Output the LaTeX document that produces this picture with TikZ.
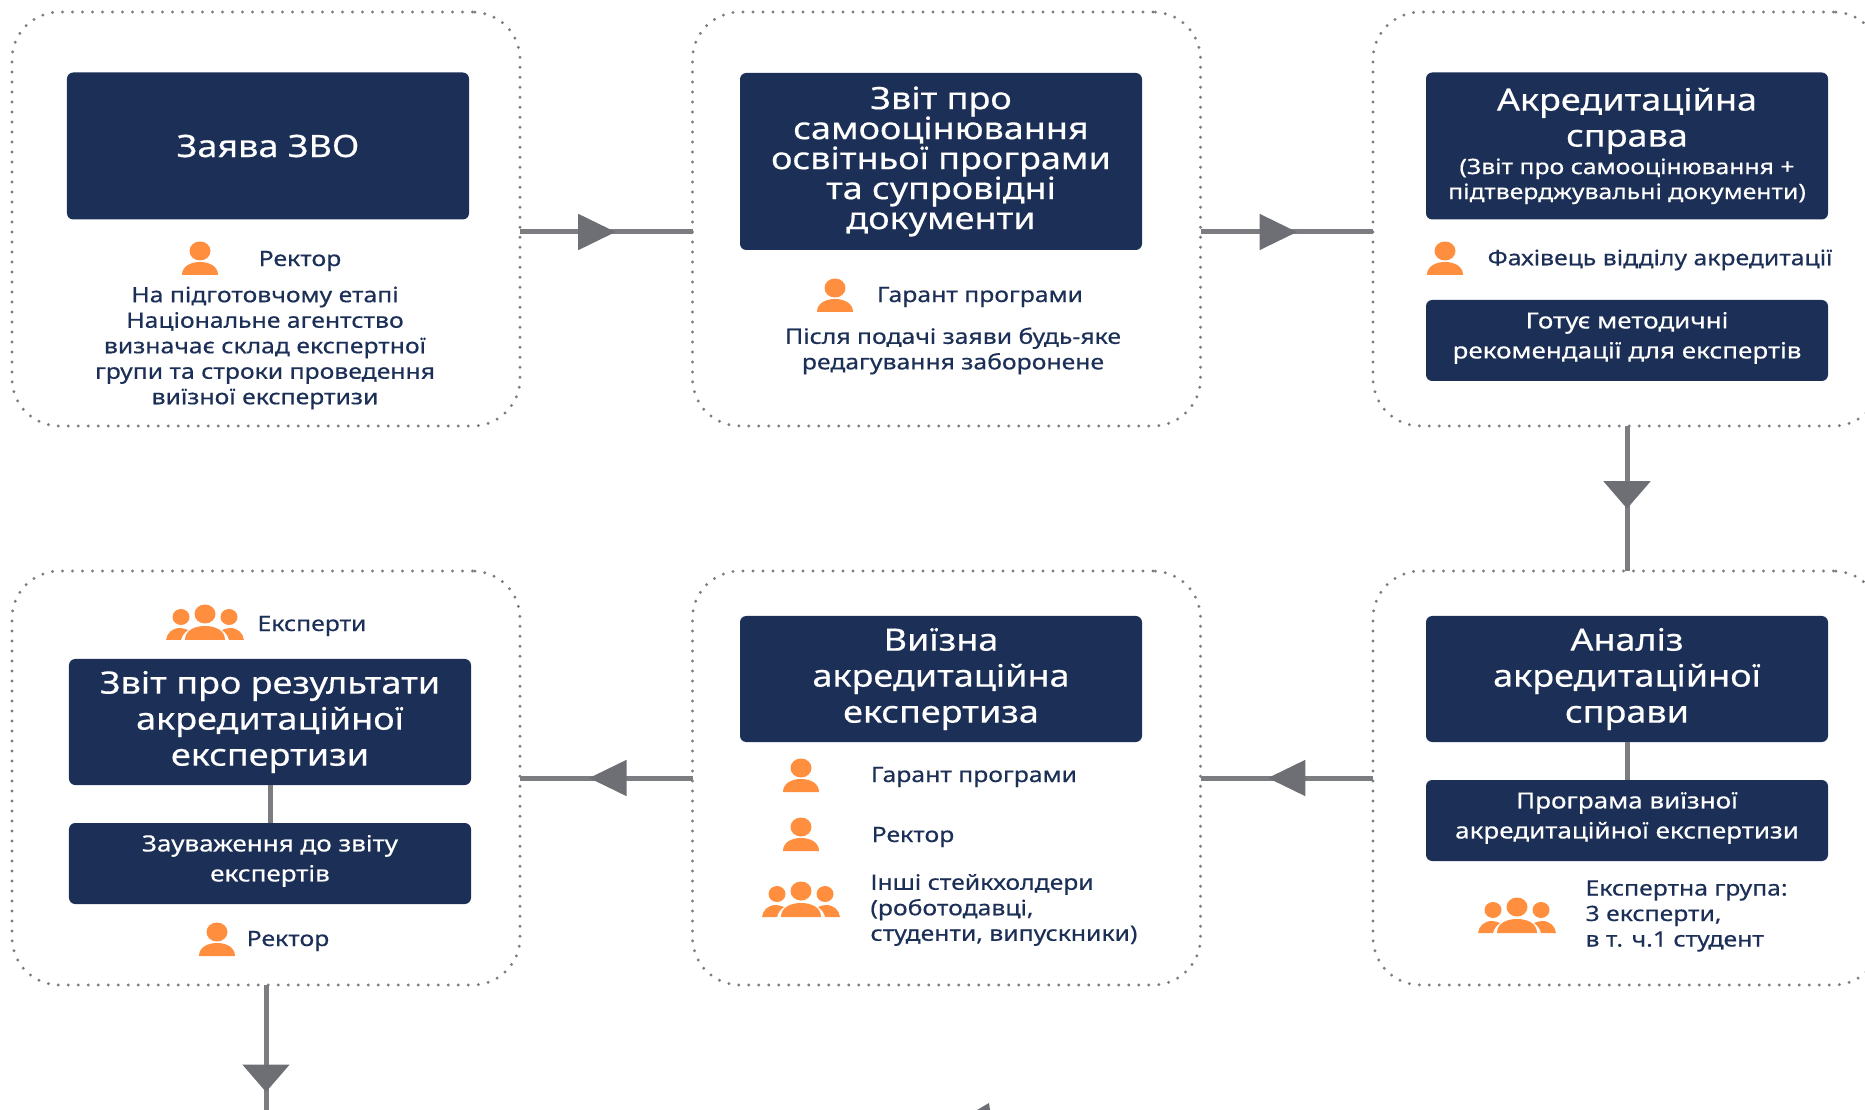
\documentclass[tikz,border=0pt]{standalone}
\usepackage{fontspec}
\setmainfont{Noto Sans}
\newfontfamily\semi[FakeBold=0.45,FakeStretch=1.17]{Noto Sans}
\setlength{\lineskiplimit}{-10pt}
\usetikzlibrary{arrows.meta,decorations.markings}
\definecolor{navy}{HTML}{1C2F57}
\definecolor{iconorange}{HTML}{FF8F3F}
\definecolor{linkgray}{HTML}{7C7D81}
\definecolor{tipgray}{HTML}{6E6F74}
\tikzset{
  panel/.style={draw=linkgray,line width=1.3pt,line cap=round,dash pattern=on 0pt off 4pt,
    rounded corners=19pt,minimum width=203.2pt,inner sep=0,outer sep=0},
  darkbox/.style={fill=navy,text=white,rounded corners=2.5pt,minimum width=160.8pt,inner sep=0,outer sep=0,align=center},
  big/.style={font=\semi\fontsize{12.3}{14.4}\selectfont},
  mid/.style={font=\semi\fontsize{8.9}{12}\selectfont,text depth=4.2pt},
  lbl/.style={text=navy,inner sep=0,align=center,font=\semi\fontsize{8.46}{10.2}\selectfont},
  link/.style={draw=linkgray,line width=2pt},
  tipat/.style={postaction={decorate},decoration={markings,
    mark=at position #1 with {\arrow[tipgray]{Triangle[length=15pt,width=14pt]}}}},
  droptip/.style={postaction={decorate},decoration={markings,
    mark=at position #1 with {\arrow[tipgray]{Triangle[length=11pt,width=18.5pt]}}}},
  person/.pic={
    \fill[iconorange] (0,10) circle[x radius=10.5,y radius=9.5];
    \fill[iconorange] (-18,34) .. controls (-18,25) and (-9,21) .. (0,21) .. controls (9,21) and (18,25) .. (18,34) -- cycle;
  },
  crowd/.pic={
    \fill[iconorange] (0,10) circle[x radius=10.5,y radius=9.5] (-24,13) circle[x radius=8.5,y radius=8] (24,13) circle[x radius=8.5,y radius=8];
    \fill[iconorange] (-20,36) .. controls (-20,26) and (-10,22) .. (0,22) .. controls (10,22) and (20,26) .. (20,36) -- cycle;
    \fill[iconorange] (-39,36) .. controls (-38,29) and (-33,24) .. (-25,24) .. controls (-22,24) and (-20,25) .. (-17,26) .. controls (-21,29) and (-23,32) .. (-24,36) -- cycle;
    \fill[iconorange] (39,36) .. controls (38,29) and (33,24) .. (25,24) .. controls (22,24) and (20,25) .. (17,26) .. controls (21,29) and (23,32) .. (24,36) -- cycle;
  },
}
\begin{document}
\begin{tikzpicture}[x=0.4pt,y=-0.4pt]
\useasboundingbox (0,0) rectangle (1865,1110);
% dotted panels
\node[panel,minimum height=165.6pt] (app) at (266,219) {};
\node[panel,minimum height=165.6pt] (self) at (946.5,219) {};
\node[panel,minimum height=165.6pt] (file) at (1627,219) {};
\node[panel,minimum height=165.6pt] (report) at (266,778) {};
\node[panel,minimum height=165.6pt] (visit) at (946.5,778) {};
\node[panel,minimum height=165.6pt] (review) at (1627,778) {};
% first row
\node[darkbox,big,minimum height=58.8pt] (appbox) at (268,146) {Заява ЗВО};
\pic at (200,241) {person};
\node[lbl] (apprector) at (300,261) {Ректор};
\node[lbl] (appnote) at (265,348) {На підготовчому етапі\\Національне агентство\\визначає склад експертної\\групи та строки проведення\\виїзної експертизи};
\node[darkbox,minimum height=70.8pt,font=\semi\fontsize{12.3}{12}\selectfont] (selfbox) at (941,161.5) {Звіт про\\самооцінювання\\освітньої програми\\та супровідні\\документи};
\pic at (835,278) {person};
\node[lbl] (selfguar) at (980,297) {Гарант програми};
\node[lbl] (selfnote) at (953,351) {Після подачі заяви будь-яке\\редагування заборонене};
\node[darkbox,minimum height=58.8pt,font=\semi\fontsize{12.3}{12}\selectfont] (filebox) at (1627,146) {Акредитаційна\\[2.4pt]справа\\[-1pt]\fontsize{8.46}{10}\selectfont (Звіт про самооцінювання +\\[-2pt]\fontsize{8.46}{10}\selectfont підтверджувальні документи)};
\pic at (1445,241) {person};
\node[lbl] (fileexpert) at (1660,260) {Фахівець відділу акредитації};
\node[darkbox,mid,minimum height=32.4pt] (filerec) at (1627,340.5) {Готує методичні\\рекомендації для експертів};
% second row
\node[darkbox,big,minimum height=50.4pt] (reviewbox) at (1627,679) {Аналіз\\акредитаційної\\справи};
\node[darkbox,mid,minimum height=32.4pt] (reviewprog) at (1627,820.5) {Програма виїзної\\акредитаційної експертизи};
\pic at (1517,897) {crowd};
\node[lbl,align=left,anchor=west] (reviewteam) at (1585,916) {Експертна група:\\3 експерти,\\в т. ч.1 студент};
\node[darkbox,big,minimum height=50.4pt] (visitbox) at (941,679) {Виїзна\\акредитаційна\\експертиза};
\pic at (801,758) {person};
\node[lbl] (visitguar) at (974,777) {Гарант програми};
\pic at (801,817) {person};
\node[lbl] (visitrector) at (913,837) {Ректор};
\pic at (801,881) {crowd};
\node[lbl,align=left,anchor=west] (visitothers) at (870,910) {Інші стейкхолдери\\(роботодавці,\\студенти, випускники)};
\pic at (205,604) {crowd};
\node[lbl] (reportexp) at (312,626) {Експерти};
\node[darkbox,big,minimum height=50.4pt] (reportbox) at (270,722) {Звіт про результати\\акредитаційної\\експертизи};
\node[darkbox,mid,minimum height=32.4pt] (reportnote) at (270,863.5) {Зауваження до звіту\\експертів};
\pic at (217,922) {person};
\node[lbl] (reportrector) at (288,941) {Ректор};
% connectors
\coordinate (out) at (266,1110);
\draw[link,tipat=0.555] ([yshift=-5.2pt]app.east) -- ([yshift=-5.2pt]self.west);
\draw[link,tipat=0.56] ([yshift=-5.2pt]self.east) -- ([yshift=-5.2pt]file.west);
\draw[link,droptip=0.57] (file.south) -- (review.north);
\draw[link,tipat=0.61] (review.west) -- (visit.east);
\draw[link,tipat=0.6] (visit.west) -- (report.east);
\draw[link,droptip=0.856] (report.south) -- (out);
\draw[link] (reviewbox.south) -- (reviewprog.north);
\draw[link] (reportbox.south) -- (reportnote.north);
\fill[tipgray] (977,1110) -- (989,1103) -- (990,1110) -- cycle;
\end{tikzpicture}
\end{document}
